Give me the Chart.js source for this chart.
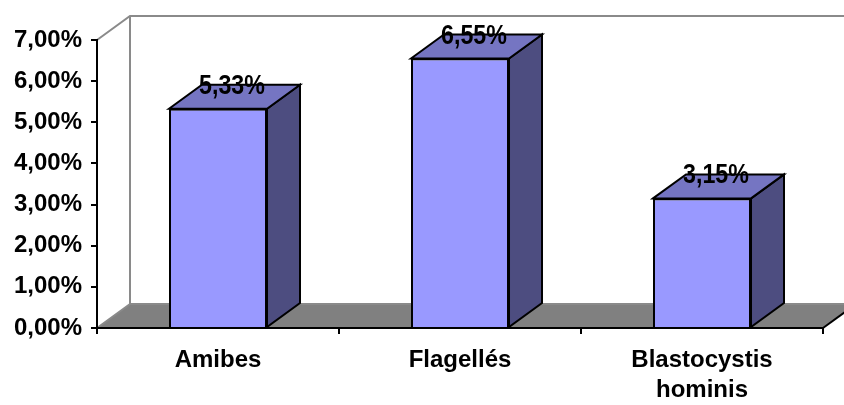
<!DOCTYPE html>
<html>
<head>
<meta charset="utf-8">
<script src="https://cdn.jsdelivr.net/npm/chart.js@4.4.0/dist/chart.umd.min.js"></script>
<style>
  html, body { margin: 0; padding: 0; background: #fff; }
</style>
</head>
<body>
<canvas id="chart" width="844" height="405"></canvas>
<script>
// data
const categories = ["Amibes", "Flagellés", ["Blastocystis", "hominis"]];
const percentages = [5.33, 6.55, 3.15];
const yMax = 7;
const yStep = 1;

// 3D look
const DEPTH_X = 33;
const DEPTH_Y = -24;
const FRONT = "#9999FF";
const TOP = "#7575C2";
const SIDE = "#4D4D80";

const fmtPct = (v) => v.toFixed(2).replace(".", ",") + "%";

const box3d = {
  id: "box3d",
  beforeDatasetsDraw(chart) {
    const { ctx, chartArea: a } = chart;
    ctx.save();
    // floor
    ctx.beginPath();
    ctx.moveTo(a.left, a.bottom);
    ctx.lineTo(a.left + DEPTH_X, a.bottom + DEPTH_Y);
    ctx.lineTo(a.right + DEPTH_X, a.bottom + DEPTH_Y);
    ctx.lineTo(a.right, a.bottom);
    ctx.closePath();
    ctx.fillStyle = "#808080";
    ctx.fill();
    // back wall
    ctx.strokeStyle = "#8a8a8a";
    ctx.lineWidth = 2;
    ctx.beginPath();
    ctx.moveTo(a.left, a.top);
    ctx.lineTo(a.left + DEPTH_X, a.top + DEPTH_Y);
    ctx.lineTo(chart.width, a.top + DEPTH_Y);
    ctx.moveTo(a.left + DEPTH_X, a.top + DEPTH_Y);
    ctx.lineTo(a.left + DEPTH_X, a.bottom + DEPTH_Y);
    ctx.lineTo(a.right + DEPTH_X, a.bottom + DEPTH_Y);
    ctx.moveTo(a.left, a.bottom);
    ctx.lineTo(a.left + DEPTH_X, a.bottom + DEPTH_Y);
    ctx.stroke();
    // floor front-right edge
    ctx.strokeStyle = "#000";
    ctx.beginPath();
    ctx.moveTo(a.right, a.bottom);
    ctx.lineTo(a.right + DEPTH_X, a.bottom + DEPTH_Y);
    ctx.stroke();
    ctx.restore();
  },
  afterDatasetsDraw(chart) {
    const { ctx } = chart;
    const meta = chart.getDatasetMeta(0);
    ctx.save();
    ctx.lineWidth = 2;
    ctx.strokeStyle = "#000";
    ctx.lineJoin = "miter";
    meta.data.forEach((bar, i) => {
      const p = bar.getProps(["x", "y", "base", "width"], true);
      const l = p.x - p.width / 2;
      const r = p.x + p.width / 2;
      // side face
      ctx.beginPath();
      ctx.moveTo(r, p.y);
      ctx.lineTo(r + DEPTH_X, p.y + DEPTH_Y);
      ctx.lineTo(r + DEPTH_X, p.base + DEPTH_Y);
      ctx.lineTo(r, p.base);
      ctx.closePath();
      ctx.fillStyle = SIDE;
      ctx.fill();
      ctx.stroke();
      // top face
      ctx.beginPath();
      ctx.moveTo(l, p.y);
      ctx.lineTo(l + DEPTH_X, p.y + DEPTH_Y);
      ctx.lineTo(r + DEPTH_X, p.y + DEPTH_Y);
      ctx.lineTo(r, p.y);
      ctx.closePath();
      ctx.fillStyle = TOP;
      ctx.fill();
      ctx.stroke();
      // value label
      ctx.save();
      ctx.font = "bold 27px 'Liberation Sans', Arial, sans-serif";
      ctx.fillStyle = "#000";
      ctx.textAlign = "center";
      ctx.textBaseline = "alphabetic";
      ctx.translate(p.x + 14, p.y - 15);
      ctx.scale(0.86, 1);
      ctx.fillText(fmtPct(percentages[i]), 0, 0);
      ctx.restore();
    });
    ctx.restore();
  }
};

const ctx = document.getElementById("chart").getContext("2d");
new Chart(ctx, {
  type: "bar",
  data: {
    labels: categories,
    datasets: [{
      data: percentages,
      backgroundColor: FRONT,
      borderColor: "#000",
      borderWidth: 2,
      barPercentage: 0.405,
      categoryPercentage: 1
    }]
  },
  options: {
    responsive: false,
    animation: false,
    layout: { padding: { top: 40, right: 21, left: 0, bottom: 0 } },
    plugins: { legend: { display: false }, tooltip: { enabled: false } },
    scales: {
      x: {
        afterFit: (s) => { s.height = 77; },
        grid: { drawOnChartArea: false, tickLength: 6, color: "#000", lineWidth: 2 },
        border: { color: "#000", width: 2, z: 1 },
        ticks: {
          color: "#000",
          padding: 11,
          maxRotation: 0,
          font: { family: "'Liberation Sans', Arial, sans-serif", size: 24, weight: "bold", lineHeight: 1.25 }
        }
      },
      y: {
        min: 0,
        max: yMax,
        afterFit: (s) => { s.width = 97; },
        grid: { drawOnChartArea: false, tickLength: 6, color: "#000", lineWidth: 2 },
        border: { color: "#000", width: 2, z: 1 },
        ticks: {
          stepSize: yStep,
          color: "#000",
          padding: 9,
          callback: (v) => fmtPct(v),
          font: { family: "'Liberation Sans', Arial, sans-serif", size: 24, weight: "bold" }
        }
      }
    }
  },
  plugins: [box3d]
});
</script>
</body>
</html>
